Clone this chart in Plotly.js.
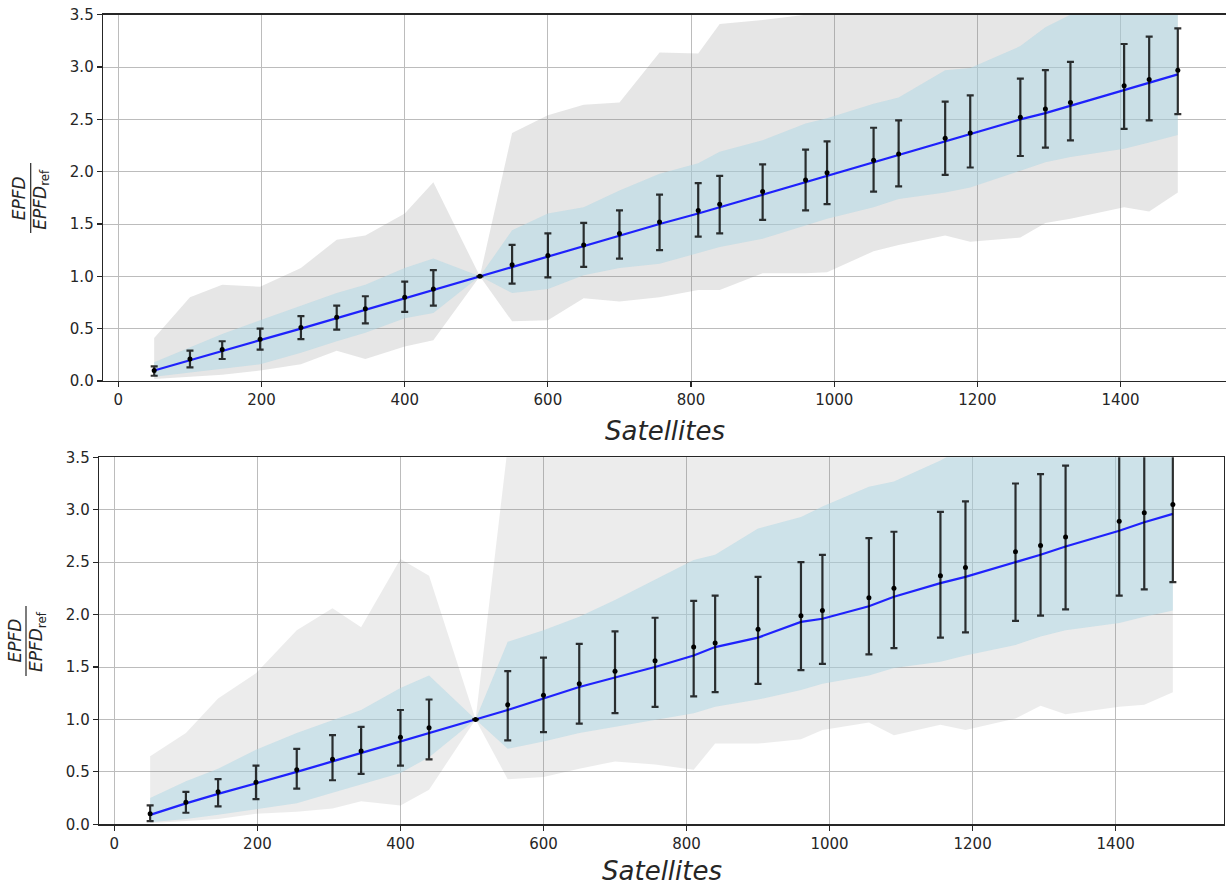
<!DOCTYPE html>
<html>
<head>
<meta charset="utf-8">
<script src="https://cdn.plot.ly/plotly-3.0.1.min.js"></script>
<style>
html,body{margin:0;padding:0;overflow:hidden;background:#fff;}
#chart{width:1232px;height:887px;}
</style>
</head>
<body>
<div id="chart"></div>
<script>
// ---- data ----
var satellites = [50,100,145,198,255,305,345,400,440,505,550,600,650,700,756,810,840,900,960,990,1055,1090,1155,1190,1260,1295,1330,1405,1440,1480];

// top panel
var topMean   = [0.10,0.21,0.30,0.40,0.51,0.61,0.69,0.80,0.88,1.00,1.11,1.20,1.30,1.41,1.52,1.63,1.69,1.81,1.92,1.99,2.11,2.17,2.32,2.37,2.52,2.60,2.66,2.82,2.88,2.97];
var topErrHi  = [0.14,0.29,0.38,0.50,0.62,0.72,0.81,0.95,1.06,1.00,1.30,1.41,1.51,1.63,1.78,1.89,1.96,2.07,2.21,2.29,2.42,2.49,2.67,2.73,2.89,2.97,3.05,3.22,3.29,3.37];
var topErrLo  = [0.05,0.13,0.21,0.30,0.40,0.49,0.55,0.66,0.72,1.00,0.93,0.99,1.09,1.17,1.25,1.38,1.41,1.54,1.63,1.69,1.81,1.86,1.97,2.04,2.15,2.23,2.30,2.41,2.49,2.55];
var topLine   = [0.10,0.20,0.29,0.39,0.50,0.60,0.68,0.79,0.87,1.00,1.09,1.19,1.29,1.39,1.50,1.60,1.66,1.78,1.90,1.96,2.09,2.16,2.29,2.36,2.50,2.56,2.63,2.78,2.85,2.93];
var topBlueHi = [0.18,0.32,0.45,0.58,0.72,0.84,0.92,1.08,1.17,1.00,1.44,1.60,1.66,1.82,1.98,2.08,2.19,2.30,2.46,2.51,2.65,2.71,2.97,2.99,3.20,3.38,3.50,3.60,3.65,3.70];
var topBlueLo = [0.04,0.08,0.12,0.16,0.27,0.38,0.46,0.60,0.65,1.00,0.84,0.88,1.01,1.08,1.12,1.22,1.28,1.36,1.49,1.55,1.66,1.74,1.80,1.85,2.01,2.09,2.14,2.22,2.28,2.35];
var topGreyHi = [0.41,0.80,0.92,0.90,1.08,1.35,1.39,1.60,1.90,1.00,2.37,2.54,2.64,2.66,3.14,3.13,3.41,3.45,3.50,3.60,3.70,3.75,3.80,3.85,3.90,3.95,4.00,4.10,4.15,4.20];
var topGreyLo = [0.02,0.04,0.06,0.10,0.16,0.29,0.21,0.33,0.39,1.00,0.57,0.58,0.79,0.76,0.80,0.87,0.87,1.03,1.03,1.04,1.24,1.30,1.39,1.33,1.37,1.51,1.55,1.66,1.62,1.80];

// bottom panel
var botMean   = [0.10,0.21,0.31,0.40,0.52,0.62,0.70,0.83,0.92,1.00,1.14,1.23,1.34,1.46,1.56,1.69,1.73,1.86,1.99,2.04,2.16,2.25,2.37,2.45,2.60,2.66,2.74,2.89,2.97,3.05];
var botErrHi  = [0.18,0.31,0.43,0.56,0.72,0.85,0.93,1.09,1.19,1.00,1.46,1.59,1.72,1.84,1.97,2.13,2.18,2.36,2.50,2.57,2.73,2.79,2.98,3.08,3.25,3.34,3.42,3.60,3.70,3.79];
var botErrLo  = [0.03,0.11,0.17,0.24,0.34,0.42,0.48,0.56,0.62,1.00,0.80,0.88,0.96,1.06,1.12,1.22,1.26,1.34,1.47,1.53,1.62,1.68,1.78,1.83,1.94,1.99,2.05,2.18,2.24,2.31];
var botLine   = [0.09,0.20,0.29,0.39,0.50,0.60,0.68,0.79,0.87,1.00,1.09,1.20,1.31,1.40,1.50,1.61,1.69,1.78,1.93,1.96,2.08,2.17,2.30,2.36,2.50,2.57,2.65,2.80,2.88,2.96];
var botBlueHi = [0.25,0.41,0.53,0.71,0.87,0.99,1.09,1.30,1.42,1.00,1.74,1.85,1.98,2.14,2.33,2.52,2.57,2.82,2.93,3.03,3.22,3.27,3.47,3.60,3.70,3.75,3.80,3.90,3.95,4.00];
var botBlueLo = [0.02,0.05,0.09,0.14,0.20,0.30,0.38,0.49,0.64,1.00,0.72,0.79,0.87,0.93,0.99,1.06,1.12,1.19,1.28,1.34,1.42,1.49,1.55,1.61,1.71,1.79,1.85,1.92,1.98,2.04];
var botGreyHi = [0.65,0.87,1.20,1.44,1.85,2.06,1.88,2.53,2.37,1.00,3.60,3.90,4.00,4.10,4.20,4.30,4.35,4.40,4.45,4.50,4.55,4.60,4.65,4.70,4.75,4.80,4.85,4.90,4.95,5.00];
var botGreyLo = [0.01,0.03,0.05,0.10,0.12,0.15,0.22,0.18,0.33,1.00,0.43,0.45,0.53,0.60,0.57,0.52,0.77,0.77,0.81,0.90,0.97,0.85,0.95,0.90,1.01,1.13,1.05,1.12,1.14,1.26];

var xTicks = [0,200,400,600,800,1000,1200,1400];
var yTicks = [0,0.5,1,1.5,2,2.5,3,3.5];

// ---- build ----
var W = 1232, H = 887;
function px(x){return x/W;}
function py(y){return 1 - y/H;}

function panel(xa, ya, mean, hi, lo, line, bHi, bLo, gHi, gLo, greyA){
  var base = {x: satellites, xaxis: xa, yaxis: ya, hoverinfo:'skip', showlegend:false};
  var plus = mean.map(function(m,i){return hi[i]-m;});
  var minus = mean.map(function(m,i){return m-lo[i];});
  return [
    Object.assign({}, base, {y: gLo, mode:'lines', line:{width:0, color:'rgba(0,0,0,0)'}}),
    Object.assign({}, base, {y: gHi, mode:'lines', line:{width:0, color:'rgba(0,0,0,0)'}, fill:'tonexty', fillcolor:'rgba(128,128,128,'+greyA+')'}),
    Object.assign({}, base, {y: bLo, mode:'lines', line:{width:0, color:'rgba(0,0,0,0)'}}),
    Object.assign({}, base, {y: bHi, mode:'lines', line:{width:0, color:'rgba(0,0,0,0)'}, fill:'tonexty', fillcolor:'rgba(173,216,230,0.5)'}),
    Object.assign({}, base, {y: line, mode:'lines', line:{width:2.2, color:'rgba(0,0,255,0.85)'}}),
    Object.assign({}, base, {y: mean, mode:'markers', marker:{size:5, color:'#000'},
      error_y:{type:'data', symmetric:false, array:plus, arrayminus:minus, color:'rgba(0,0,0,0.8)', thickness:2.2, width:3.5}})
  ];
}

var data = [].concat(
  panel('x','y', topMean, topErrHi, topErrLo, topLine, topBlueHi, topBlueLo, topGreyHi, topGreyLo, 0.2),
  panel('x2','y2', botMean, botErrHi, botErrLo, botLine, botBlueHi, botBlueLo, botGreyHi, botGreyLo, 0.15)
);

var tickFont = {family:'DejaVu Sans', size:15, color:'#262626'};
function xAxis(dom, anchor){
  return {domain:dom, anchor:anchor, range:[-21.5,1551.5], tickmode:'array', tickvals:xTicks,
    showgrid:true, gridcolor:'#bcbcbc', gridwidth:1, zeroline:false,
    showline:true, linecolor:'#262626', linewidth:1.3, mirror:true,
    ticks:'outside', ticklen:5, tickwidth:1.2, tickcolor:'#262626', tickfont:tickFont};
}
function yAxis(dom, anchor){
  return {domain:dom, anchor:anchor, range:[0,3.5], tickmode:'array', tickvals:yTicks, tickformat:'.1f',
    showgrid:true, gridcolor:'#bcbcbc', gridwidth:1, zeroline:false,
    showline:true, linecolor:'#262626', linewidth:1.3, mirror:true,
    ticks:'outside', ticklen:5, tickwidth:1.2, tickcolor:'#262626', tickfont:tickFont};
}

var labFont = {family:'DejaVu Sans', size:17, color:'#262626'};
var satFont = {family:'DejaVu Sans', size:26, color:'#262626'};

function fraction(cx, cy){
  return [
    {xref:'paper', yref:'paper', x:px(cx-11.5), y:py(cy), xanchor:'center', yanchor:'middle', showarrow:false,
      text:'<i>EPFD</i>', textangle:-90, font:labFont},
    {xref:'paper', yref:'paper', x:px(cx+11), y:py(cy+1), xanchor:'center', yanchor:'middle', showarrow:false,
      text:'<i>EPFD</i><sub>ref</sub>', textangle:-90, font:labFont}
  ];
}

var layout = {
  width:W, height:H, margin:{l:0,r:0,t:0,b:0}, paper_bgcolor:'#fff', plot_bgcolor:'#fff', showlegend:false,
  xaxis: xAxis([px(103), px(1229)], 'y'),
  yaxis: yAxis([py(381), py(14.7)], 'x'),
  xaxis2: xAxis([px(99), px(1224)], 'y2'),
  yaxis2: yAxis([py(824.3), py(457.3)], 'x2'),
  annotations: [].concat(
    fraction(30.7, 198),
    fraction(26, 641),
    [
      {xref:'paper', yref:'paper', x:px(665), y:py(431), xanchor:'center', yanchor:'middle', showarrow:false, borderpad:0, text:'<i>Satellites</i>', font:satFont},
      {xref:'paper', yref:'paper', x:px(662), y:py(871), xanchor:'center', yanchor:'middle', showarrow:false, borderpad:0, text:'<i>Satellites</i>', font:satFont}
    ]),
  shapes: [
    {type:'line', xref:'paper', yref:'paper', x0:px(30.7), x1:px(30.7), y0:py(163), y1:py(233), line:{color:'#262626', width:1.2}},
    {type:'line', xref:'paper', yref:'paper', x0:px(26), x1:px(26), y0:py(606), y1:py(676), line:{color:'#262626', width:1.2}}
  ]
};

Plotly.newPlot('chart', data, layout, {staticPlot:true, displayModeBar:false});
</script>
</body>
</html>
